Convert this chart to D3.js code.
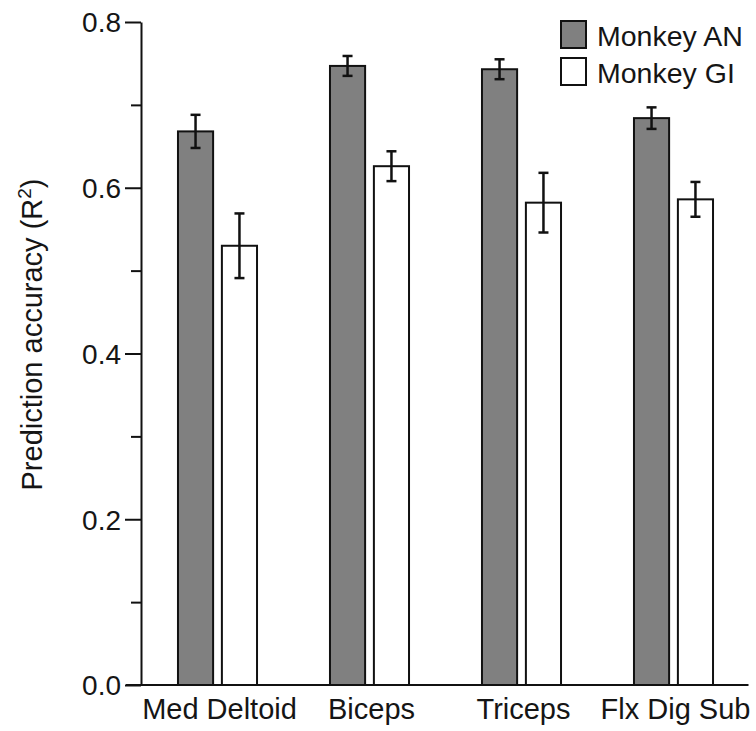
<!DOCTYPE html>
<html>
<head>
<meta charset="utf-8">
<script src="https://cdn.jsdelivr.net/npm/d3@7"></script>
<style>
  body { margin: 0; background: #fff; }
  text { font-family: "Liberation Sans", Arial, Helvetica, sans-serif; fill: #151515; }
</style>
</head>
<body>
<svg id="chart" width="756" height="731"></svg>
<script>
const muscles = ['Med Deltoid', 'Biceps', 'Triceps', 'Flx Dig Sub'];
const monkeys = ['Monkey AN', 'Monkey GI'];
const anMean = [0.668, 0.747, 0.743, 0.684];
const anErr = [0.020, 0.012, 0.012, 0.013];
const giMean = [0.530, 0.626, 0.582, 0.586];
const giErr = [0.039, 0.018, 0.036, 0.021];
const majorTicks = [0, 0.2, 0.4, 0.6, 0.8];
const minorTicks = [0.1, 0.3, 0.5, 0.7];

const fills = { 'Monkey AN': '#808080', 'Monkey GI': '#ffffff' };

const rows = muscles.map((m, i) => ({
  muscle: m,
  bars: [
    { monkey: monkeys[0], value: anMean[i], err: anErr[i] },
    { monkey: monkeys[1], value: giMean[i], err: giErr[i] }
  ]
}));

const svg = d3.select('#chart');
const plotLeft = 141, plotTop = 22, plotBottom = 685, plotRight = 749.5;

const x = d3.scaleBand()
  .domain(muscles)
  .range([plotLeft + 0.5, plotRight])
  .paddingInner(0.48)
  .paddingOuter(0.24);

const xs = d3.scaleBand()
  .domain(monkeys)
  .range([0, x.bandwidth()])
  .paddingInner(0.2);

const y = d3.scaleLinear().domain([0, 0.8]).range([plotBottom, plotTop]);

// minor ticks
svg.append('g')
  .attr('transform', `translate(${plotLeft},0)`)
  .call(d3.axisLeft(y).tickValues(minorTicks).tickSize(10).tickFormat(''))
  .call(g => g.select('.domain').remove())
  .call(g => g.selectAll('line').attr('stroke', '#111').attr('stroke-width', 2));

// major ticks + labels
svg.append('g')
  .attr('transform', `translate(${plotLeft},0)`)
  .call(d3.axisLeft(y).tickValues(majorTicks).tickSize(16).tickSizeOuter(0).tickPadding(4)
    .tickFormat(d3.format('.1f')))
  .call(g => g.select('.domain').attr('stroke', '#111').attr('stroke-width', 2))
  .call(g => g.selectAll('line').attr('stroke', '#111').attr('stroke-width', 2))
  .call(g => g.selectAll('text').attr('font-size', 28).attr('dy', '0.35em'));

// bars
const groups = svg.append('g').selectAll('g')
  .data(rows)
  .join('g')
  .attr('transform', d => `translate(${x(d.muscle)},0)`);

groups.selectAll('rect')
  .data(d => d.bars)
  .join('rect')
  .attr('x', d => xs(d.monkey))
  .attr('y', d => y(d.value))
  .attr('width', xs.bandwidth())
  .attr('height', d => y(0) - y(d.value))
  .attr('fill', d => fills[d.monkey])
  .attr('stroke', '#111')
  .attr('stroke-width', 2);

// error bars
const eb = groups.selectAll('g.err')
  .data(d => d.bars)
  .join('g')
  .attr('class', 'err')
  .attr('stroke', '#111')
  .attr('stroke-width', 2.5);

const cx = d => xs(d.monkey) + xs.bandwidth() / 2;
eb.append('line')
  .attr('x1', cx).attr('x2', cx)
  .attr('y1', d => y(d.value + d.err))
  .attr('y2', d => y(d.value - d.err));
eb.append('line')
  .attr('x1', d => cx(d) - 5).attr('x2', d => cx(d) + 5)
  .attr('y1', d => y(d.value + d.err)).attr('y2', d => y(d.value + d.err));
eb.append('line')
  .attr('x1', d => cx(d) - 5).attr('x2', d => cx(d) + 5)
  .attr('y1', d => y(d.value - d.err)).attr('y2', d => y(d.value - d.err));

// x baseline
svg.append('line')
  .attr('x1', plotLeft - 15).attr('x2', plotRight - 1)
  .attr('y1', y(0)).attr('y2', y(0))
  .attr('stroke', '#111').attr('stroke-width', 2);

// x labels
svg.append('g').selectAll('text')
  .data(muscles)
  .join('text')
  .attr('x', d => x(d) + x.bandwidth() / 2 + 2)
  .attr('y', 719)
  .attr('text-anchor', 'middle')
  .attr('font-size', 29)
  .text(d => d);

// y label
const yl = svg.append('text')
  .attr('transform', `translate(42,${(177 + 492) / 2}) rotate(-90)`)
  .attr('text-anchor', 'middle')
  .attr('font-size', 29);
yl.append('tspan').text('Prediction accuracy (R');
yl.append('tspan').attr('font-size', 19).attr('dy', -11).text('2');
yl.append('tspan').attr('dy', 11).text(')');

// legend
const lg = svg.append('g').selectAll('g')
  .data(monkeys)
  .join('g')
  .attr('transform', (d, i) => `translate(561,${21 + i * 37})`);
lg.append('rect')
  .attr('width', 25).attr('height', 27)
  .attr('fill', d => fills[d])
  .attr('stroke', '#111').attr('stroke-width', 2);
lg.append('text')
  .attr('x', 36).attr('y', 25)
  .attr('font-size', 28.5)
  .text(d => d);
</script>
</body>
</html>
